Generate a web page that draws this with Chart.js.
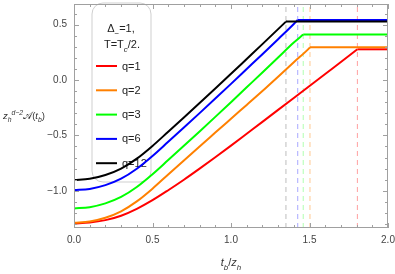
<!DOCTYPE html>
<html><head><meta charset="utf-8">
<script src="https://cdn.jsdelivr.net/npm/chart.js@4.4.1/dist/chart.umd.min.js"></script>
<style>html,body{margin:0;padding:0;background:#fff}#wrap{width:395px;height:274px;position:relative}canvas{display:block}</style>
</head><body><div id="wrap"><canvas id="c" width="395" height="274" style="width:395px;height:274px"></canvas></div>
<script>
// ---- data ----
const seriesLabels = ['q=1', 'q=2', 'q=3', 'q=6', 'q=12'];
const tGrid = [0, 0.1, 0.2, 0.3, 0.4, 0.5, 0.6, 0.7, 0.8, 0.9, 1.0, 1.1, 1.2, 1.3, 1.4, 1.5, 1.6, 1.7];
const q1Values  = [-1.295, -1.287, -1.265, -1.225, -1.163, -1.085, -0.995, -0.90, -0.80, -0.697, -0.592, -0.485, -0.378, -0.27, -0.162, -0.054, 0.054, 0.163];
const q2Values  = [-1.289, -1.278, -1.244, -1.186, -1.096, -0.981, -0.853, -0.726, -0.60, -0.475, -0.35, -0.225, -0.10, 0.03, 0.16, 0.29];
const q3Values  = [-1.159, -1.148, -1.114, -1.056, -0.966, -0.851, -0.723, -0.594, -0.464, -0.333, -0.20, -0.066, 0.068, 0.203, 0.338];
const q6Values  = [-0.994, -0.983, -0.949, -0.891, -0.801, -0.686, -0.558, -0.429, -0.299, -0.168, -0.035, 0.099, 0.233, 0.368, 0.505];
const q12Values = [-0.903, -0.892, -0.858, -0.80, -0.71, -0.595, -0.467, -0.338, -0.208, -0.077, 0.056, 0.19, 0.324, 0.459];
const kinkT = [1.805, 1.503, 1.46, 1.425, 1.35];
const plateauValues = [0.277, 0.295, 0.41, 0.542, 0.527];
const tEnd = 2.0;
const xTickLabels = ['0.0', '0.5', '1.0', '1.5', '2.0'];
const yTickLabels = ['\u22121.0', '\u22120.5', '0.0', '0.5'];

// ---- styles ----
const seriesColors = ['#ff0000', '#ff8000', '#00ff00', '#0000ff', '#000000'];
const dashColors = ['#ffa0a0', '#ffc890', '#b0ffb0', '#a8a8ff', '#bdbdbd'];
const yMin = -1.336, yMax = 0.686;
const FAM = '"Liberation Sans", Arial, Helvetica, sans-serif';

const allValues = [q1Values, q2Values, q3Values, q6Values, q12Values];
function risingPart(i) {
  const pts = allValues[i].map((v, j) => ({x: tGrid[j], y: v}));
  pts.push({x: kinkT[i], y: plateauValues[i]});
  return pts;
}
function plateauPart(i) {
  return [{x: kinkT[i], y: plateauValues[i]}, {x: tEnd, y: plateauValues[i]}];
}
const risingSets = seriesLabels.map((lab, i) => ({
  label: lab, data: risingPart(i), borderColor: seriesColors[i], backgroundColor: seriesColors[i],
  borderWidth: 2, pointRadius: 0, cubicInterpolationMode: 'monotone', fill: false, order: 5 - i
}));
const plateauSets = seriesLabels.map((lab, i) => ({
  label: lab + ' plateau', data: plateauPart(i), borderColor: seriesColors[i], backgroundColor: seriesColors[i],
  borderWidth: 2, pointRadius: 0, tension: 0, fill: false, order: 5 - i
}));
const dashSets = kinkT.map((k, i) => ({
  label: 'kink' + i, data: [{x: k, y: yMin}, {x: k, y: yMax}], borderColor: dashColors[i],
  borderWidth: 1, borderDash: [5, 4], pointRadius: 0, fill: false, order: 20
}));

function rich(ctx, parts, x, y, align, size) {
  const items = parts.map(([t, k]) => {
    const small = k.includes('sub') || k.includes('sup');
    const it = k.startsWith('i');
    const fs = small ? size * 0.72 : size;
    const font = (it ? 'italic ' : '') + fs + 'px ' + (k.includes('script') ? '"DejaVu Serif", ' + FAM : FAM);
    ctx.font = font;
    return {t, font, w: ctx.measureText(t).width,
      dy: k.includes('sub') ? size * 0.32 : (k.includes('sup') ? -size * 0.42 : 0)};
  });
  const total = items.reduce((a, b) => a + b.w, 0);
  let cx = align === 'center' ? x - total / 2 : (align === 'right' ? x - total : x);
  ctx.textAlign = 'left'; ctx.textBaseline = 'alphabetic';
  for (const it of items) { ctx.font = it.font; ctx.fillText(it.t, cx, y + it.dy); cx += it.w; }
}

function isLabelTick(v) { return Math.abs(v * 2 - Math.round(v * 2)) < 1e-6; }

const decor = {
  id: 'decor',
  beforeDatasetsDraw(chart) {
    const ctx = chart.ctx;
    ctx.save();
    const L = 92, T = 3, R = 151, B = 182, r = 11;
    ctx.beginPath();
    ctx.moveTo(L + r, T); ctx.lineTo(R - r, T); ctx.arcTo(R, T, R, T + r, r);
    ctx.lineTo(R, B - r); ctx.arcTo(R, B, R - r, B, r); ctx.lineTo(L + r, B);
    ctx.arcTo(L, B, L, B - r, r); ctx.lineTo(L, T + r); ctx.arcTo(L, T, L + r, T, r); ctx.closePath();
    ctx.fillStyle = '#ffffff'; ctx.fill();
    ctx.strokeStyle = '#cfcfcf'; ctx.lineWidth = 1; ctx.stroke();
    ctx.fillStyle = '#222';
    rich(ctx, [['\u0394', 'n'], ['\u2212', 'sub'], ['=1,', 'n']], 121, 32, 'center', 11);
    rich(ctx, [['T=T', 'n'], ['c', 'isub'], ['/2.', 'n']], 122, 48, 'center', 11);
    const rowsY = [66, 90.3, 114.6, 138.9, 163.2];
    seriesLabels.forEach((lab, i) => {
      ctx.strokeStyle = seriesColors[i]; ctx.lineWidth = 2;
      ctx.beginPath(); ctx.moveTo(96, rowsY[i]); ctx.lineTo(117, rowsY[i]); ctx.stroke();
      ctx.fillStyle = '#222'; ctx.font = '11px ' + FAM; ctx.textAlign = 'left'; ctx.textBaseline = 'middle';
      ctx.fillText(lab, 122, rowsY[i] + 0.5);
    });
    ctx.restore();
  },
  afterDraw(chart) {
    const ctx = chart.ctx, a = chart.chartArea;
    const xs = chart.scales.x, ys = chart.scales.y;
    ctx.save();
    ctx.strokeStyle = '#a0a0a0'; ctx.lineWidth = 1;
    ctx.strokeRect(Math.round(a.left) + 0.5, Math.round(a.top) + 0.5, Math.round(a.right - a.left) - 1, Math.round(a.bottom - a.top) - 1);
    ctx.beginPath();
    xs.ticks.forEach(t => {
      const px = Math.round(xs.getPixelForValue(t.value)) + 0.5;
      const len = isLabelTick(t.value) ? 5 : 3;
      ctx.moveTo(px, a.bottom); ctx.lineTo(px, a.bottom - len);
      ctx.moveTo(px, a.top); ctx.lineTo(px, a.top + len);
    });
    ys.ticks.forEach(t => {
      const py = Math.round(ys.getPixelForValue(t.value)) + 0.5;
      const len = isLabelTick(t.value) ? 5 : 3;
      ctx.moveTo(a.left, py); ctx.lineTo(a.left + len, py);
      ctx.moveTo(a.right, py); ctx.lineTo(a.right - len, py);
    });
    ctx.stroke();
    ctx.fillStyle = '#333';
    rich(ctx, [['t', 'i'], ['b', 'isub'], ['/', 'n'], ['z', 'i'], ['h', 'isub']], (a.left + a.right) / 2, 266, 'center', 11);
    rich(ctx, [['z', 'i'], ['h', 'isub'], ['d\u22122', 'isup'], ['\uD835\uDC9C', 'script'], ['(', 'n'], ['t', 'i'], ['b', 'isub'], [')', 'n']], 3, (a.top + a.bottom) / 2 + 3, 'left', 9.5);
    ctx.restore();
  }
};

new Chart(document.getElementById('c'), {
  type: 'line',
  data: {datasets: [...risingSets, ...plateauSets, ...dashSets]},
  options: {
    responsive: false, animation: false, devicePixelRatio: 1,
    layout: {padding: {left: 0, right: 7, top: 4, bottom: 0}},
    plugins: {legend: {display: false}, tooltip: {enabled: false}},
    scales: {
      x: {type: 'linear', min: 0, max: tEnd,
        grid: {display: false, drawTicks: false}, border: {display: false},
        ticks: {stepSize: 0.1, autoSkip: false, maxRotation: 0, includeBounds: false, padding: 6,
          font: {size: 10, family: FAM}, color: '#444',
          callback: v => isLabelTick(v) ? xTickLabels[Math.round(v * 2)] : ''},
        afterFit: s => { s.height = 46; s.paddingLeft = 0; s.paddingRight = 0; }},
      y: {type: 'linear', min: yMin, max: yMax,
        grid: {display: false, drawTicks: false}, border: {display: false},
        ticks: {stepSize: 0.1, autoSkip: false, includeBounds: false, padding: 7,
          font: {size: 10, family: FAM}, color: '#444',
          callback: v => isLabelTick(v) ? yTickLabels[Math.round(v * 2) + 2] : ''},
        afterFit: s => { s.width = 74; s.paddingTop = 0; s.paddingBottom = 0; }}
    }
  },
  plugins: [decor]
});
</script>
</body></html>
